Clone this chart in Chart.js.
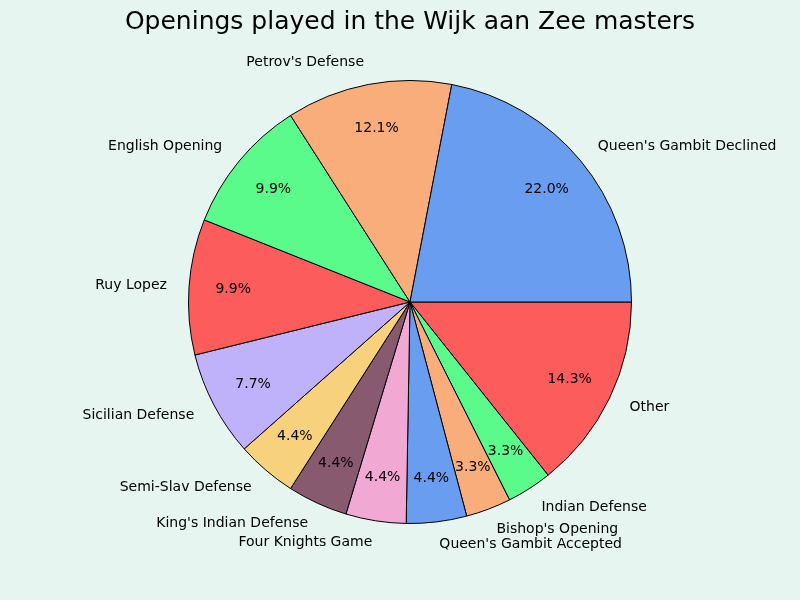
<!DOCTYPE html>
<html><head><meta charset="utf-8">
<script src="https://cdn.jsdelivr.net/npm/chart.js@4"></script>
<style>html,body{margin:0;padding:0;background:#e6f5ef;}#wrap{width:800px;height:600px;position:relative;}</style>
</head><body><div id="wrap"><canvas id="c" width="800" height="600"></canvas></div>
<script>
const titleText = "Openings played in the Wijk aan Zee masters";
const openings = ["Queen's Gambit Declined","Petrov's Defense","English Opening","Ruy Lopez","Sicilian Defense","Semi-Slav Defense","King's Indian Defense","Four Knights Game","Queen's Gambit Accepted","Bishop's Opening","Indian Defense","Other"];
const games = [20,11,9,9,7,4,4,4,4,3,3,13];
const sliceColors = ["#689df0","#f8ad7b","#5afa8b","#fd5c5c","#c0b1fb","#f7d17b","#885a70","#f1a8d3","#689df0","#f8ad7b","#5afa8b","#fd5c5c"];

// matplotlib goes counter-clockwise from 3 o'clock; Chart.js goes clockwise, so reverse.
const labelsR = openings.slice().reverse();
const valuesR = games.slice().reverse();
const colorsR = sliceColors.slice().reverse();
const total = games.reduce((a,b)=>a+b,0);

const textPlugin = {
  id:'pieText',
  afterDraw(chart){
    const ctx = chart.ctx;
    ctx.save();
    ctx.fillStyle = '#000';
    ctx.font = '25px "DejaVu Sans"';
    ctx.textAlign = 'center';
    ctx.textBaseline = 'middle';
    ctx.fillText(titleText, 410, 22);
    const meta = chart.getDatasetMeta(0);
    ctx.font = '14px "DejaVu Sans"';
    meta.data.forEach((arc,i)=>{
      const p = arc.getProps(['x','y','startAngle','endAngle','outerRadius'], true);
      const mid = (p.startAngle + p.endAngle)/2;
      const cx = Math.cos(mid), cy = Math.sin(mid);
      const pct = (valuesR[i]/total*100).toFixed(1)+'%';
      ctx.textAlign='center';
      ctx.fillText(pct, p.x + cx*p.outerRadius*0.8, p.y + cy*p.outerRadius*0.8);
      ctx.textAlign = cx > 0 ? 'left' : 'right';
      ctx.fillText(labelsR[i], p.x + cx*p.outerRadius*1.1, p.y + cy*p.outerRadius*1.1);
    });
    ctx.restore();
  }
};

new Chart(document.getElementById('c'), {
  type:'pie',
  data:{labels:labelsR, datasets:[{data:valuesR, backgroundColor:colorsR, borderColor:'#000', borderWidth:1, borderJoinStyle:'miter'}]},
  options:{
    responsive:false, animation:false, devicePixelRatio:1,
    rotation:90,
    layout:{padding:{left:188,right:168,top:80,bottom:76}},
    plugins:{legend:{display:false}, title:{display:false}, tooltip:{enabled:false}}
  },
  plugins:[textPlugin]
});
</script></body></html>
